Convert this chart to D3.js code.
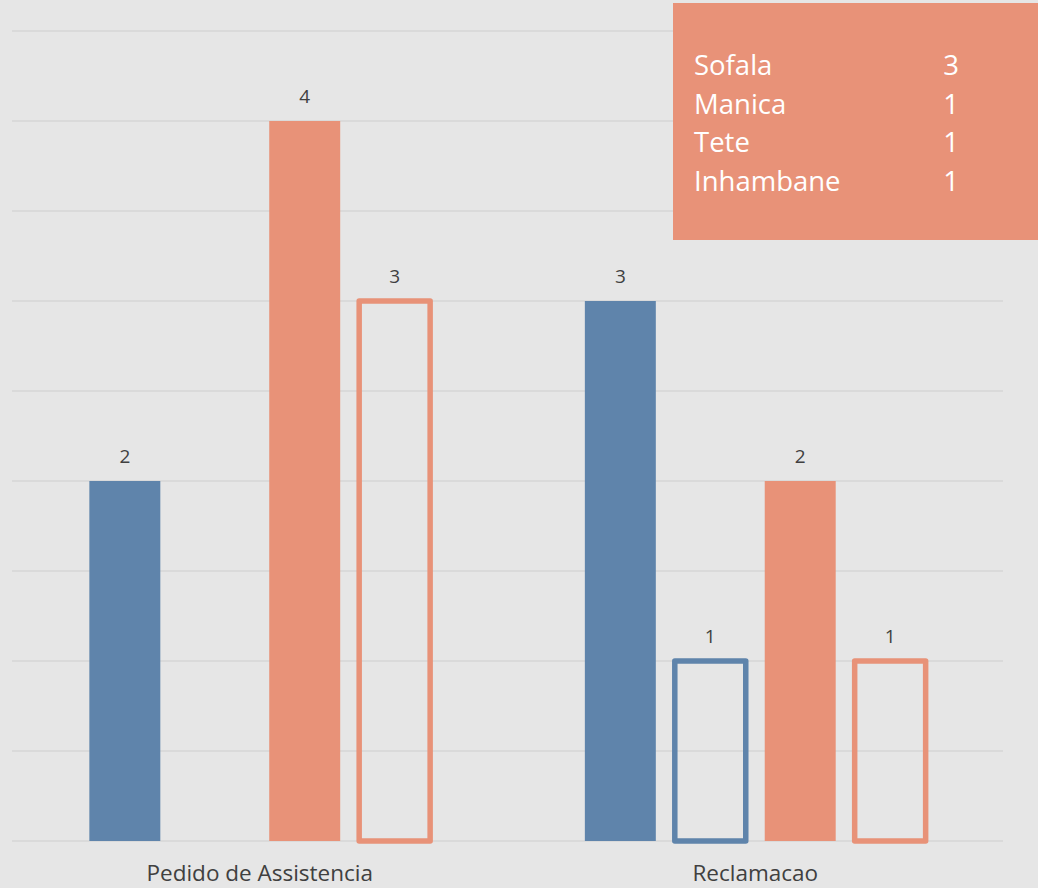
<!DOCTYPE html>
<html>
<head>
<meta charset="utf-8">
<script src="https://cdn.jsdelivr.net/npm/d3@7"></script>
<style>
  html, body { margin: 0; padding: 0; background: #e6e6e6; }
  svg { display: block; }
</style>
</head>
<body>
<svg id="chart" width="1038" height="888"></svg>
<script>
// Categories on the x axis
const categories = ["Pedido de Assistencia", "Reclamacao"];
// Four series per category (two filled, two outlined)
const seriesKeys = ["s1", "s2", "s3", "s4"];
const s1Values = [2, 3];
const s2Values = [0, 1];
const s3Values = [4, 2];
const s4Values = [3, 1];
// Gridline values
const gridTicks = [0, 0.5, 1, 1.5, 2, 2.5, 3, 3.5, 4, 4.5];
// Summary box contents
const provinces = ["Sofala", "Manica", "Tete", "Inhambane"];
const provinceCounts = [3, 1, 1, 1];

const seriesValues = { s1: s1Values, s2: s2Values, s3: s3Values, s4: s4Values };

const blue = "#5f84ab";
const orange = "#e89278";
const seriesStyle = {
  s1: { color: blue, filled: true },
  s2: { color: blue, filled: false },
  s3: { color: orange, filled: true },
  s4: { color: orange, filled: false }
};
const FONT = "'Open Sans', Lato, sans-serif";

const svg = d3.select("#chart");
const W = 1038, H = 888;

svg.append("rect").attr("width", W).attr("height", H).attr("fill", "#e6e6e6");

const x0 = d3.scaleBand().domain(categories).range([12, 1003]).paddingInner(0).paddingOuter(0);
const x1 = d3.scaleBand().domain(seriesKeys).range([0, x0.bandwidth()])
  .paddingInner(0.211).paddingOuter(0.86);
const y = d3.scaleLinear().domain([0, 4.5]).range([841, 31]);

// Horizontal gridlines
svg.append("g").selectAll("line").data(gridTicks).join("line")
  .attr("x1", 12).attr("x2", 1003)
  .attr("y1", d => y(d)).attr("y2", d => y(d))
  .attr("stroke", "#d6d6d6").attr("stroke-width", 1.5);

// Flatten data
const bars = [];
categories.forEach((c, i) => {
  seriesKeys.forEach(k => {
    bars.push({ category: c, key: k, value: seriesValues[k][i] });
  });
});
const shown = bars.filter(d => d.value > 0);

const g = svg.append("g");
g.selectAll("rect.bar").data(shown).join("rect")
  .attr("class", "bar")
  .attr("x", d => x0(d.category) + x1(d.key))
  .attr("width", x1.bandwidth())
  .attr("y", d => y(d.value))
  .attr("height", d => y(0) - y(d.value))
  .attr("fill", d => seriesStyle[d.key].filled ? seriesStyle[d.key].color : "none")
  .attr("stroke", d => seriesStyle[d.key].filled ? "none" : seriesStyle[d.key].color)
  .attr("stroke-width", d => seriesStyle[d.key].filled ? 0 : 5.5)
  .attr("stroke-linejoin", "round");

// Value labels
g.selectAll("text.val").data(shown).join("text")
  .attr("class", "val")
  .attr("x", d => x0(d.category) + x1(d.key) + x1.bandwidth() / 2)
  .attr("y", d => y(d.value) - 18)
  .attr("text-anchor", "middle")
  .attr("font-family", FONT)
  .attr("font-size", 19)
  .attr("fill", "#404040")
  .text(d => d.value);

// Category axis labels
svg.append("g").selectAll("text").data(categories).join("text")
  .attr("x", d => x0(d) + x0.bandwidth() / 2)
  .attr("y", 881)
  .attr("text-anchor", "middle")
  .attr("font-family", FONT)
  .attr("font-size", 22.5)
  .attr("fill", "#404040")
  .text(d => d);

// Summary box
const box = svg.append("g");
box.append("rect").attr("x", 673).attr("y", 3).attr("width", 370).attr("height", 237)
  .attr("fill", orange);
const rowY = d3.scalePoint().domain(provinces).range([75, 191]);
box.selectAll("text.name").data(provinces).join("text")
  .attr("class", "name")
  .attr("x", 694).attr("y", d => rowY(d))
  .attr("font-family", FONT)
  .attr("font-size", 27.5)
  .attr("fill", "#ffffff")
  .text(d => d);
box.selectAll("text.count").data(provinces).join("text")
  .attr("class", "count")
  .attr("x", 959).attr("y", d => rowY(d))
  .attr("text-anchor", "end")
  .attr("font-family", FONT)
  .attr("font-size", 27.5)
  .attr("fill", "#ffffff")
  .text((d, i) => provinceCounts[i]);
</script>
</body>
</html>
